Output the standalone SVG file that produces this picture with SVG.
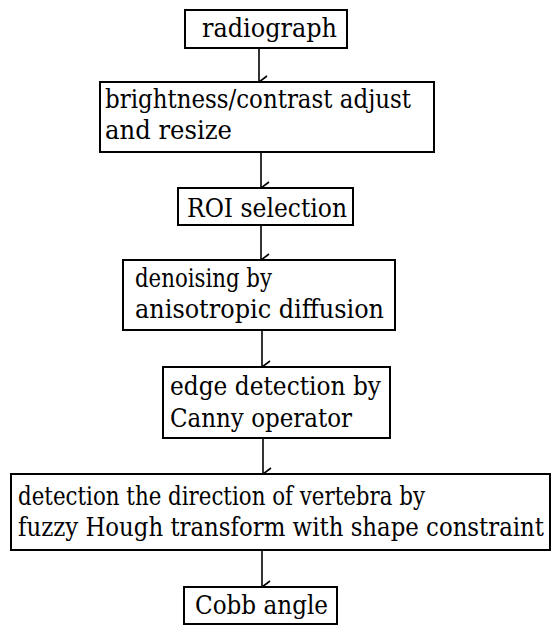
<svg xmlns="http://www.w3.org/2000/svg" width="552" height="626" viewBox="0 0 552 626">
  <defs>
    <marker id="arrow" markerWidth="14" markerHeight="12" refX="7" refY="10" orient="auto" markerUnits="userSpaceOnUse" viewBox="0 0 14 12">
      <path d="M1,2 L7,10 L13,2" fill="none" stroke="#000" stroke-width="1.6"/>
    </marker>
  </defs>
  <style>
    .box { fill: #fff; stroke: #000; stroke-width: 2; }
    text { font-family: "DejaVu Serif", "Liberation Serif", serif; font-size: 26px; fill: #000; }
    .link { stroke: #000; stroke-width: 1.6; fill: none; marker-end: url(#arrow); }
  </style>
  <rect width="552" height="626" fill="#fff"/>

  <g id="connectors">
    <line class="link" x1="259" y1="48" x2="259" y2="82"/>
    <line class="link" x1="261" y1="152" x2="261" y2="188"/>
    <line class="link" x1="261" y1="225" x2="261" y2="260"/>
    <line class="link" x1="262" y1="330" x2="262" y2="367"/>
    <line class="link" x1="263" y1="438" x2="263" y2="474"/>
    <line class="link" x1="262" y1="550" x2="262" y2="587"/>
  </g>

  <g id="radiograph">
    <rect class="box" x="185" y="10" width="162" height="38"/>
    <text x="202" y="37" textLength="135" lengthAdjust="spacingAndGlyphs">radiograph</text>
  </g>

  <g id="adjust">
    <rect class="box" x="100" y="82" width="334" height="70"/>
    <text x="105" y="108" textLength="306" lengthAdjust="spacingAndGlyphs">brightness/contrast adjust</text>
    <text x="105" y="139" textLength="127" lengthAdjust="spacingAndGlyphs">and resize</text>
  </g>

  <g id="roi">
    <rect class="box" x="178" y="188" width="175" height="37"/>
    <text x="187" y="217" textLength="160" lengthAdjust="spacingAndGlyphs">ROI selection</text>
  </g>

  <g id="denoise">
    <rect class="box" x="123" y="260" width="272" height="70"/>
    <text x="135" y="287" textLength="137" lengthAdjust="spacingAndGlyphs">denoising by</text>
    <text x="135" y="318" textLength="249" lengthAdjust="spacingAndGlyphs">anisotropic diffusion</text>
  </g>

  <g id="edge">
    <rect class="box" x="163" y="367" width="227" height="71"/>
    <text x="170" y="395" textLength="211" lengthAdjust="spacingAndGlyphs">edge detection by</text>
    <text x="170" y="427" textLength="182" lengthAdjust="spacingAndGlyphs">Canny operator</text>
  </g>

  <g id="direction">
    <rect class="box" x="11" y="474" width="539" height="76"/>
    <text x="18" y="505" textLength="407" lengthAdjust="spacingAndGlyphs">detection the direction of vertebra by</text>
    <text x="18" y="536" textLength="526" lengthAdjust="spacingAndGlyphs">fuzzy Hough transform with shape constraint</text>
  </g>

  <g id="cobb">
    <rect class="box" x="184" y="587" width="153" height="37"/>
    <text x="195" y="614" textLength="133" lengthAdjust="spacingAndGlyphs">Cobb angle</text>
  </g>
</svg>
